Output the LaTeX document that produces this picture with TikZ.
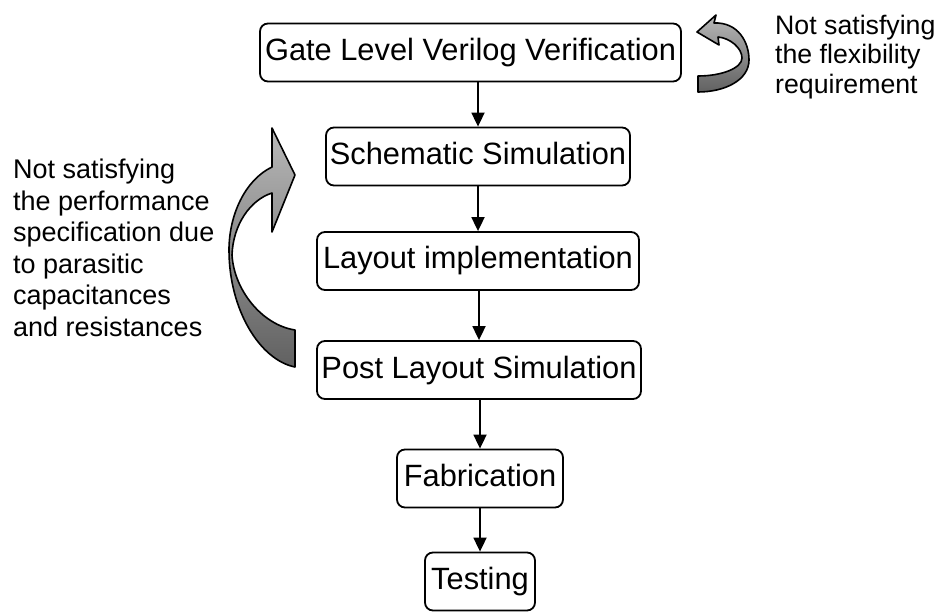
\documentclass[tikz,border=0pt]{standalone}
\usepackage{fontspec}
\setmainfont{Liberation Sans}
\usetikzlibrary{arrows.meta}
\begin{document}
\begin{tikzpicture}[x=1pt,y=-1pt,
  stepbox/.style={draw, line width=1.8pt, rounded corners=8pt, inner sep=0pt,
    font=\fontsize{30.8}{36}\selectfont, text height=22pt, text depth=6pt, minimum height=58pt},
  flow/.style={line width=1.8pt, -{Triangle[width=13pt,length=14pt]}},
  note/.style={font=\fontsize{27}{31.5}\selectfont, align=left, inner sep=0pt, anchor=north west},
  ribbon/.style={draw, line width=1.6pt, line join=round, top color=black!28, bottom color=black!62}]
\useasboundingbox (0,0) rectangle (942,612);

\node[stepbox, minimum width=421pt] (gate) at (470.5,52.5) {Gate Level Verilog Verification};
\node[stepbox, minimum width=304pt] (sch) at (478,156.5) {Schematic Simulation};
\node[stepbox, minimum width=322pt] (lay) at (478,261) {Layout implementation};
\node[stepbox, minimum width=324pt] (post) at (479,370) {Post Layout Simulation};
\node[stepbox, minimum width=166pt] (fab) at (480,478.5) {Fabrication};
\node[stepbox, minimum width=110pt] (test) at (480,581.5) {Testing};

\draw[flow] (gate.south -| sch.north) -- (sch.north);
\draw[flow] (sch.south -| lay.north) -- (lay.north);
\draw[flow] (lay.south -| post.north) -- (post.north);
\draw[flow] (post.south -| fab.north) -- (fab.north);
\draw[flow] (fab.south -| test.north) -- (test.north);

\node[note] (lefttext) at (13,159) {Not satisfying\\the performance\\specification due\\to parasitic\\capacitances\\and resistances};
\node[note, font=\fontsize{26.7}{29.3}\selectfont] (righttext) at (775,15) {Not satisfying\\the flexibility\\requirement};

% big feedback ribbon arrow
\draw[ribbon] (295,175) -- (272,128) -- (272,167)
  .. controls (245,180) and (229,215) .. (229,250)
  .. controls (229,310) and (260,360) .. (295,367)
  -- (295,330)
  .. controls (262,325) and (234,290) .. (232,255)
  .. controls (233,225) and (250,200) .. (272,193)
  -- (272,232) -- cycle;

% small feedback ribbon arrow
\draw[ribbon] (697,32) -- (716,15) -- (714,23)
  .. controls (738,22) and (749,42) .. (749,60)
  .. controls (749,80) and (725,92) .. (698,92)
  -- (698,76)
  .. controls (722,76) and (742,68) .. (742,58)
  .. controls (742,48) and (730,38) .. (718,37)
  -- (719,45) -- cycle;
\end{tikzpicture}
\end{document}
